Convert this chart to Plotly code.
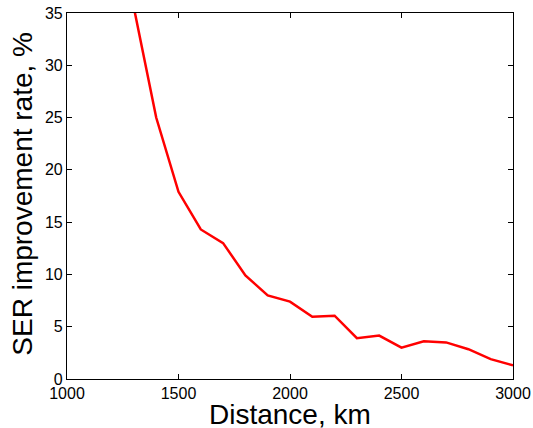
import plotly.graph_objects as go

distance_km = [1300, 1400, 1500, 1600, 1700, 1800, 1900, 2000, 2100, 2200,
               2300, 2400, 2500, 2600, 2700, 2800, 2900, 3000]
ser_improvement = [35.5, 25.0, 17.9, 14.3, 13.0, 9.9, 8.0, 7.4, 5.95, 6.05,
                   3.9, 4.15, 3.0, 3.6, 3.5, 2.85, 1.9, 1.3]
x_ticks = [1000, 1500, 2000, 2500, 3000]
y_ticks = [0, 5, 10, 15, 20, 25, 30, 35]
x_title = "Distance, km"
y_title = "SER improvement rate, %"

fig = go.Figure()
fig.add_trace(go.Scatter(x=distance_km, y=ser_improvement, mode="lines",
                         line=dict(color="#ff0000", width=2.5),
                         showlegend=False, cliponaxis=True))

font_family = "Liberation Sans, Arial, Helvetica, sans-serif"
axis_common = dict(showline=True, linecolor="black", linewidth=1.2,
                   mirror="ticks", ticks="inside", ticklen=5, tickwidth=1,
                   tickcolor="black", showgrid=False, zeroline=False,
                   automargin=False,
                   tickfont=dict(family=font_family, size=16, color="black"))

fig.update_xaxes(range=[1000, 3000], tickvals=x_ticks, **axis_common)
fig.update_yaxes(range=[0, 35], tickvals=y_ticks, **axis_common)

title_font = dict(family=font_family, size=28, color="black")
fig.add_annotation(text=x_title, xref="paper", yref="paper", x=0.5, y=0,
                   xanchor="center", yanchor="top", yshift=-18,
                   showarrow=False, font=title_font)
fig.add_annotation(text=y_title, xref="paper", yref="paper", x=0, y=0.505,
                   xanchor="right", yanchor="middle", xshift=-27,
                   textangle=-90, showarrow=False, font=title_font)

fig.update_layout(width=533, height=428, plot_bgcolor="white",
                  paper_bgcolor="white",
                  margin=dict(l=67, r=20, t=13, b=49, pad=0))

fig.write_html("out.html", config={"displayModeBar": False},
               post_script="document.body.style.margin='0';document.body.style.padding='0';")
